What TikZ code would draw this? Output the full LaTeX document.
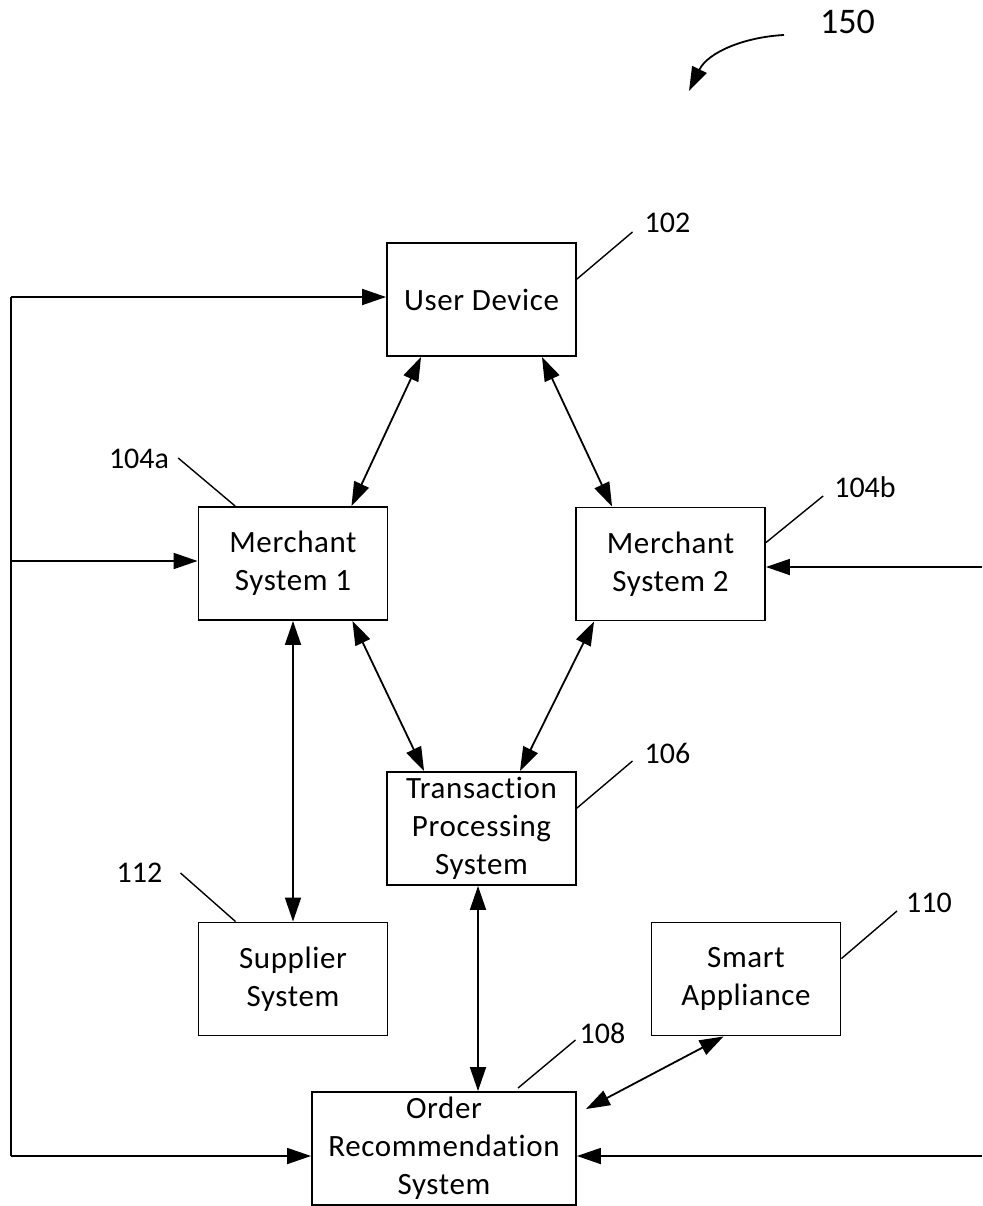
\documentclass[tikz,border=0pt]{standalone}
\usepackage{fontspec}
\setmainfont{Carlito}[Ligatures=NoCommon]
\newfontfamily\boxfont{Carlito}[Ligatures=NoCommon, LetterSpace=2]
\usetikzlibrary{arrows.meta,calc}
\begin{document}
\begin{tikzpicture}[x=1pt,y=-1pt,
  box/.style={draw, line width=1.9pt, minimum width=189pt, minimum height=113pt, inner sep=0pt, align=center, font=\boxfont\fontsize{31}{38}\selectfont},
  tipA/.tip={Triangle[length=24pt,width=16pt]},
  both/.style={line width=1.8pt, tipA-tipA},
  into/.style={line width=1.8pt, -tipA},
  bus/.style={line width=1.8pt},
  lbl/.style={inner sep=0pt, font=\fontsize{30}{36}\selectfont},
  lead/.style={line width=1.4pt}
]
\useasboundingbox (0,0) rectangle (982,1206);

% boxes
\node[box] (UD)  at (481.5,299.5) {User Device};
\node[box] (MS1) at (293,563.5) {Merchant\\System 1};
\node[box] (MS2) at (670.5,564) {Merchant\\System 2};
\node[box] (TPS) at (481.5,828.5) {Transaction\\Processing\\System};
\node[box] (SUP) at (293,979) {Supplier\\System};
\node[box] (SMA) at (746,979) {Smart\\Appliance};
\node[box, minimum width=264pt] (ORS) at (444,1148.5) {Order\\Recommendation\\System};

% reference labels
\node[lbl] (n102)  at (667.5,223) {102};
\node[lbl] (n104a) at (139,459) {104a};
\node[lbl] (n104b) at (865,487) {104b};
\node[lbl] (n106)  at (667.5,753) {106};
\node[lbl] (n110)  at (929,903) {110};
\node[lbl] (n108)  at (602.5,1033) {108};
\node[lbl] (n112)  at (139.5,873) {112};
\node[inner sep=0pt, font=\fontsize{36}{40}\selectfont] (n150) at (847.5,22) {150};

% leader lines
\draw[lead] ($(UD.north east)+(0,37)$) -- ($(n102.west)+(-12,9)$);
\draw[lead] ($(n104a.east)+(9,-1)$) -- ($(MS1.north west)+(37.6,0)$);
\draw[lead] ($(MS2.north east)+(0,36)$) -- ($(n104b.west)+(-11,9)$);
\draw[lead] ($(TPS.north east)+(0,37)$) -- ($(n106.west)+(-12,8)$);
\draw[lead] ($(SMA.north east)+(0,37)$) -- ($(n110.west)+(-9,8)$);
\draw[lead] ($(ORS.north)+(74,-3)$) -- ($(n108.west)+(-4,7)$);
\draw[lead] ($(n112.east)+(18,0)$) -- ($(SUP.north west)+(38,0)$);

% 150 arrow
\coordinate (c150s) at (784,35);
\coordinate (c150e) at (689,91);
\draw[into] (c150s) .. controls (745,37) and (708,52) .. (c150e);

% bidirectional connectors
\draw[both] ($(UD.south west)+(35,0)$) -- ($(MS1.north east)+(-37,0)$);
\draw[both] ($(UD.south east)+(-35,0)$) -- ($(MS2.north west)+(37,0)$);
\draw[both] ($(MS1.south east)+(-36,0)$) -- ($(TPS.north west)+(38,0)$);
\draw[both] ($(MS2.south west)+(19,0)$) -- ($(TPS.north east)+(-57,0)$);
\draw[both] (MS1.south) -- (SUP.north);
\draw[both] ($(TPS.south)+(-3.5,0)$) -- ($(ORS.north)+(34,0)$);
\draw[both] ($(ORS.north east)+(9,18)$) -- ($(SMA.south west)+(73,0)$);

% left bus
\coordinate (Ltop) at (11,297);
\coordinate (Lmid) at (11,561);
\coordinate (Lbot) at (11,1156);
\draw[bus] (Ltop) -- (Lbot);
\draw[into] (Ltop) -- (UD.west |- Ltop);
\draw[into] (Lmid) -- (MS1.west |- Lmid);
\draw[into] (Lbot) -- (ORS.west |- Lbot);

% right inputs
\coordinate (R1) at (982,567);
\coordinate (R2) at (982,1156);
\draw[into] (R1) -- (MS2.east |- R1);
\draw[into] (R2) -- (ORS.east |- R2);
\end{tikzpicture}
\end{document}
